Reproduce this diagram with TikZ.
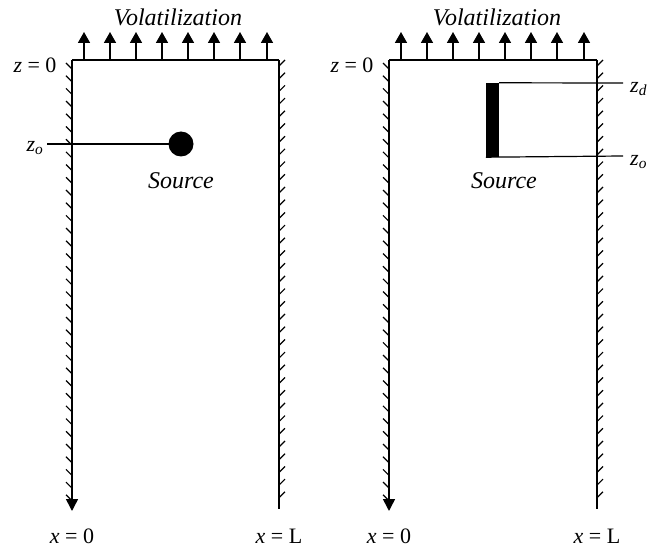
\documentclass[tikz,border=0pt]{standalone}
\usepackage{fontspec}
\setmainfont{Liberation Serif}[ItalicFont={Liberation Serif Italic}]
\usetikzlibrary{arrows.meta}
\begin{document}
\begin{tikzpicture}[x=1pt,y=-1pt,
  wall/.style={line width=1.6pt},
  hatch/.style={line width=1.2pt},
  flux/.style={line width=1.6pt,-{Triangle[width=12pt,length=11pt]}},
  lbl/.style={font=\fontsize{24}{26}\selectfont\itshape,inner sep=0pt},
  mlbl/.style={font=\fontsize{22}{24}\selectfont,inner sep=0pt}]
\useasboundingbox (0,0) rectangle (659,548);
% ---------- left panel ----------
\coordinate (LTL) at (72,60);
\coordinate (LTR) at (279,60);
\coordinate (LBL) at (72,511);
\coordinate (LBR) at (279,509);
\draw[wall] (LTL) -- (LTR);
\draw[wall,-{Triangle[width=12pt,length=12pt]}] (LTL) -- (LBL);
\draw[wall] (LTR) -- (LBR);
\foreach \y in {63,75.7,...,495} {
  \draw[hatch] (72,\y+6) -- (66,\y);
}
\foreach \y in {66,78.7,...,505} {
  \draw[hatch] (279,\y) -- (285,\y-6);
}
\foreach \x in {84,110,136,162,188,214,240,267} {
  \coordinate (la\x) at (\x,60);
  \coordinate (lb\x) at (\x,32);
  \draw[flux] (la\x) -- (lb\x);
}
\node[lbl] (volL) at (178,17) {Volatilization};
\node[mlbl] (z0L) at (35,65) {\textit{z} = 0};
\node[mlbl] (zoL) at (35,148) {\textit{z}\textsubscript{\textit{o}}};
\node[circle,fill=black,minimum size=25pt,inner sep=0pt] (src) at (181,144) {};
\coordinate (zoLs) at (47,144);
\draw[line width=1.2pt] (zoLs) -- (src.center);
\node[lbl] (srcL) at (181,181) {Source};
\node[mlbl] (x0L) at (72,536) {\textit{x} = 0};
\node[mlbl] (xLL) at (279,536) {\textit{x} = L};
% ---------- right panel ----------
\coordinate (RTL) at (389,60);
\coordinate (RTR) at (597,60);
\coordinate (RBL) at (389,511);
\coordinate (RBR) at (597,509);
\draw[wall] (RTL) -- (RTR);
\draw[wall,-{Triangle[width=12pt,length=12pt]}] (RTL) -- (RBL);
\draw[wall] (RTR) -- (RBR);
\foreach \y in {63,75.7,...,495} {
  \draw[hatch] (389,\y+6) -- (383,\y);
}
\foreach \y in {66,78.7,...,505} {
  \draw[hatch] (597,\y) -- (603,\y-6);
}
\foreach \x in {401,427,453,479,505,531,557,584} {
  \coordinate (ra\x) at (\x,60);
  \coordinate (rb\x) at (\x,32);
  \draw[flux] (ra\x) -- (rb\x);
}
\node[lbl] (volR) at (497,17) {Volatilization};
\node[mlbl] (z0R) at (352,65) {\textit{z} = 0};
\node[draw=none,fill=black,inner sep=0pt,minimum width=13pt,minimum height=74pt] (bar) at (492.5,120) {};
\coordinate (zdEnd) at (623,83);
\coordinate (zoEnd) at (623,156);
\draw[line width=1.2pt] (bar.north east) -- (zdEnd);
\draw[line width=1.2pt] (bar.south west) -- (zoEnd);
\node[mlbl,anchor=west] (zdR) at (630,89) {\textit{z}\textsubscript{\textit{d}}};
\node[mlbl,anchor=west] (zoR) at (630,162) {\textit{z}\textsubscript{\textit{o}}};
\node[lbl] (srcR) at (504,181) {Source};
\node[mlbl] (x0R) at (389,536) {\textit{x} = 0};
\node[mlbl] (xLR) at (597,536) {\textit{x} = L};
\end{tikzpicture}
\end{document}
